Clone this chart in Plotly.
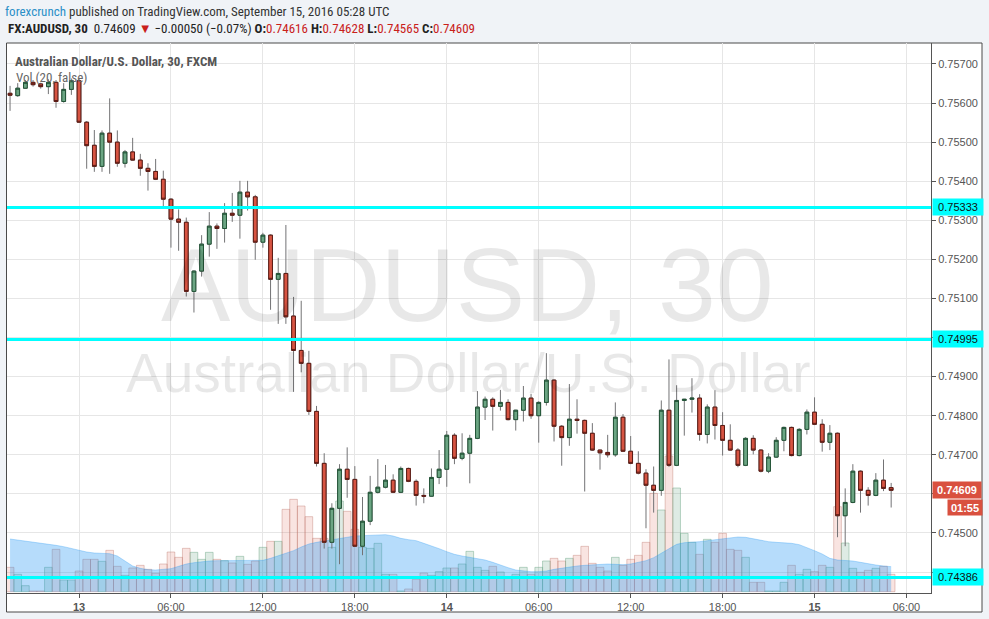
import plotly.graph_objects as go
import pandas as pd

# AUD/USD 30 minute candles (FXCM), first bar 12 Sep 2016 19:30 UTC
start_time = "2016-09-12 19:30"

opens = [
    0.75625, 0.75619, 0.75638, 0.75653, 0.75649, 0.75642, 0.75653, 0.75604, 0.75635, 0.75657,
    0.75551, 0.75492, 0.75438, 0.75523, 0.75500, 0.75446, 0.75475, 0.75454, 0.75433, 0.75425,
    0.75405, 0.75354, 0.75303, 0.75295, 0.75118, 0.75170, 0.75239, 0.75285, 0.75279, 0.75318,
    0.75313, 0.75372, 0.75360, 0.75244, 0.75262, 0.75149, 0.75164, 0.75055, 0.74967, 0.74934,
    0.74811, 0.74678, 0.74476, 0.74563, 0.74663, 0.74637, 0.74466, 0.74530, 0.74604, 0.74617,
    0.74635, 0.74604, 0.74665, 0.74632, 0.74596, 0.74594, 0.74642, 0.74663, 0.74750, 0.74691,
    0.74704, 0.74742, 0.74822, 0.74842, 0.74824, 0.74834, 0.74790, 0.74814, 0.74845, 0.74800,
    0.74834, 0.74891, 0.74773, 0.74744, 0.74791, 0.74788, 0.74755, 0.74712, 0.74706, 0.74700,
    0.74796, 0.74709, 0.74678, 0.74653, 0.74622, 0.74609, 0.74814, 0.74673, 0.74839, 0.74842,
    0.74845, 0.74752, 0.74822, 0.74775, 0.74737, 0.74712, 0.74673, 0.74742, 0.74712, 0.74658,
    0.74694, 0.74737, 0.74770, 0.74698, 0.74765, 0.74809, 0.74778, 0.74732, 0.74755, 0.74544,
    0.74578, 0.74658, 0.74609, 0.74596, 0.74635, 0.74616,
]
highs = [
    0.75644, 0.75651, 0.75659, 0.75659, 0.75652, 0.75661, 0.75659, 0.75651, 0.75663, 0.75662,
    0.75554, 0.75531, 0.75530, 0.75612, 0.75530, 0.75480, 0.75511, 0.75470, 0.75446, 0.75457,
    0.75427, 0.75357, 0.75328, 0.75307, 0.75172, 0.75262, 0.75321, 0.75292, 0.75344, 0.75370,
    0.75401, 0.75401, 0.75365, 0.75268, 0.75264, 0.75204, 0.75288, 0.75104, 0.75094, 0.74966,
    0.74825, 0.74704, 0.74576, 0.74676, 0.74719, 0.74671, 0.74592, 0.74646, 0.74689, 0.74674,
    0.74650, 0.74670, 0.74667, 0.74637, 0.74614, 0.74665, 0.74712, 0.74761, 0.74755, 0.74755,
    0.74751, 0.74863, 0.74849, 0.74847, 0.74866, 0.74842, 0.74815, 0.74876, 0.74856, 0.74837,
    0.74960, 0.74893, 0.74776, 0.74881, 0.74842, 0.74790, 0.74781, 0.74713, 0.74751, 0.74834,
    0.74804, 0.74748, 0.74709, 0.74663, 0.74670, 0.74839, 0.74944, 0.74878, 0.74843, 0.74896,
    0.74855, 0.74829, 0.74865, 0.74809, 0.74778, 0.74717, 0.74745, 0.74750, 0.74714, 0.74704,
    0.74745, 0.74772, 0.74772, 0.74768, 0.74816, 0.74847, 0.74791, 0.74776, 0.74757, 0.74614,
    0.74676, 0.74660, 0.74617, 0.74653, 0.74688, 0.74628,
]
lows = [
    0.75580, 0.75616, 0.75636, 0.75642, 0.75637, 0.75623, 0.75588, 0.75601, 0.75621, 0.75549,
    0.75432, 0.75424, 0.75424, 0.75419, 0.75437, 0.75435, 0.75453, 0.75414, 0.75376, 0.75403,
    0.75336, 0.75230, 0.75222, 0.75105, 0.75064, 0.75156, 0.75207, 0.75227, 0.75243, 0.75296,
    0.75253, 0.75325, 0.75199, 0.75230, 0.75071, 0.75035, 0.75035, 0.74861, 0.74911, 0.74802,
    0.74670, 0.74460, 0.74460, 0.74420, 0.74590, 0.74464, 0.74443, 0.74520, 0.74601, 0.74614,
    0.74602, 0.74602, 0.74630, 0.74570, 0.74576, 0.74592, 0.74625, 0.74618, 0.74676, 0.74686,
    0.74627, 0.74740, 0.74789, 0.74762, 0.74813, 0.74788, 0.74762, 0.74785, 0.74792, 0.74731,
    0.74826, 0.74734, 0.74672, 0.74723, 0.74754, 0.74606, 0.74710, 0.74662, 0.74693, 0.74695,
    0.74707, 0.74676, 0.74650, 0.74512, 0.74552, 0.74595, 0.74669, 0.74671, 0.74749, 0.74808,
    0.74736, 0.74729, 0.74739, 0.74698, 0.74710, 0.74668, 0.74671, 0.74701, 0.74655, 0.74653,
    0.74692, 0.74709, 0.74696, 0.74696, 0.74752, 0.74776, 0.74708, 0.74712, 0.74489, 0.74466,
    0.74576, 0.74552, 0.74570, 0.74594, 0.74607, 0.74565,
]
closes = [
    0.75620, 0.75638, 0.75653, 0.75647, 0.75642, 0.75653, 0.75604, 0.75635, 0.75657, 0.75551,
    0.75491, 0.75438, 0.75523, 0.75500, 0.75446, 0.75475, 0.75454, 0.75433, 0.75425, 0.75405,
    0.75354, 0.75303, 0.75295, 0.75118, 0.75170, 0.75239, 0.75285, 0.75279, 0.75318, 0.75313,
    0.75372, 0.75360, 0.75244, 0.75262, 0.75149, 0.75164, 0.75053, 0.74967, 0.74934, 0.74811,
    0.74678, 0.74476, 0.74563, 0.74663, 0.74637, 0.74466, 0.74530, 0.74604, 0.74617, 0.74635,
    0.74604, 0.74665, 0.74632, 0.74596, 0.74594, 0.74642, 0.74663, 0.74750, 0.74691, 0.74704,
    0.74742, 0.74822, 0.74842, 0.74824, 0.74834, 0.74790, 0.74814, 0.74845, 0.74800, 0.74834,
    0.74891, 0.74773, 0.74744, 0.74791, 0.74788, 0.74755, 0.74712, 0.74705, 0.74700, 0.74796,
    0.74709, 0.74678, 0.74653, 0.74622, 0.74609, 0.74814, 0.74673, 0.74839, 0.74842, 0.74845,
    0.74752, 0.74822, 0.74775, 0.74737, 0.74712, 0.74673, 0.74742, 0.74712, 0.74658, 0.74694,
    0.74737, 0.74770, 0.74698, 0.74765, 0.74809, 0.74778, 0.74732, 0.74755, 0.74544, 0.74578,
    0.74658, 0.74609, 0.74596, 0.74635, 0.74614, 0.74609,
]
# volume (relative units) and its 20-bar average
volumes = [
    73, 52, 18, 2, 2, 73, 127, 35, 35, 62,
    97, 97, 91, 124, 76, 49, 71, 79, 67, 55,
    83, 119, 103, 130, 118, 97, 118, 97, 93, 86,
    106, 82, 92, 133, 151, 151, 247, 277, 257, 225,
    160, 160, 133, 272, 241, 187, 133, 130, 145, 52,
    52, 2, 8, 37, 56, 49, 60, 71, 71, 83,
    121, 73, 64, 76, 59, 43, 52, 73, 52, 73,
    92, 100, 92, 100, 109, 136, 85, 73, 62, 103,
    79, 97, 109, 148, 295, 245, 407, 311, 175, 148,
    112, 157, 148, 175, 127, 124, 103, 28, 28, 2,
    2, 28, 79, 52, 67, 60, 79, 73, 255, 146,
    70, 58, 64, 70, 76, 52,
]
vol_ma = [
    158, 155, 153, 150, 145, 142, 139, 135, 129, 123,
    119, 116, 115, 114, 107, 92, 77, 70, 66, 65,
    67, 69, 76, 83, 87, 90, 92, 93, 93, 93,
    93, 92, 92, 94, 100, 108, 115, 123, 134, 143,
    148, 152, 157, 160, 164, 167, 168, 169, 171, 171,
    167, 160, 156, 153, 145, 138, 129, 120, 112, 107,
    103, 101, 95, 88, 79, 72, 65, 62, 60, 60,
    62, 67, 71, 75, 77, 79, 81, 83, 83, 82,
    81, 83, 87, 93, 102, 115, 130, 142, 147, 148,
    150, 153, 156, 159, 161, 164, 163, 158, 154, 150,
    148, 147, 145, 141, 133, 123, 113, 100, 95, 94,
    92, 88, 83, 80, 77, 75,
]

levels = [0.75333, 0.74995, 0.74386]
countdown = "01:55"
change_text = "\u22120.00050 (\u22120.07%)"

price_ticks = [0.744, 0.745, 0.746, 0.747, 0.748, 0.749, 0.750, 0.751,
               0.752, 0.753, 0.754, 0.755, 0.756, 0.757]
# labels covered by the price / level boxes on the axis
hidden_ticks = [0.744, 0.746]
time_ticks = ["2016-09-13 00:00", "2016-09-13 06:00", "2016-09-13 12:00", "2016-09-13 18:00",
              "2016-09-14 00:00", "2016-09-14 06:00", "2016-09-14 12:00", "2016-09-14 18:00",
              "2016-09-15 00:00", "2016-09-15 06:00"]
time_labels = ["<b>13</b>", "06:00", "12:00", "18:00", "<b>14</b>",
               "06:00", "12:00", "18:00", "<b>15</b>", "06:00"]

W, H = 989, 619


def px(x):
    return x / W


def py(y):
    return 1 - y / H


times = pd.date_range(start_time, periods=len(opens), freq="30min")
rising = [c >= o for o, c in zip(opens, closes)]
body_top = [max(o, c) for o, c in zip(opens, closes)]
body_bot = [min(o, c) for o, c in zip(opens, closes)]
price_labels = ["" if v in hidden_ticks else f"{v:.5f}" for v in price_ticks]

NARROW = "Liberation Sans Narrow, Roboto Condensed, Liberation Sans, Arial"
ARIAL = "Liberation Sans, Arial"

fig = go.Figure()

# volume bars
fig.add_trace(go.Bar(
    x=times, y=volumes, width=1800000,
    marker=dict(
        color=["rgba(107,165,131,0.22)" if r else "rgba(215,84,66,0.16)" for r in rising],
        line=dict(color=["rgba(107,165,131,0.45)" if r else "rgba(190,120,110,0.40)" for r in rising],
                  width=1),
    ),
    yaxis="y",
))

# volume moving average area
fig.add_trace(go.Scatter(
    x=times, y=vol_ma, mode="lines", fill="tozeroy",
    line=dict(color="rgba(33,150,243,0.30)", width=1),
    fillcolor="rgba(33,150,243,0.33)",
    yaxis="y",
))

# wicks (gray)
wick = dict(line=dict(color="#737375", width=1), fillcolor="#737375")
fig.add_trace(go.Candlestick(
    x=times, open=opens, high=highs, low=lows, close=closes,
    increasing=wick, decreasing=wick, whiskerwidth=0,
    yaxis="y2",
))

# bodies
fig.add_trace(go.Candlestick(
    x=times, open=opens, high=body_top, low=body_bot, close=closes,
    increasing=dict(line=dict(color="#225437", width=1), fillcolor="#6ba583"),
    decreasing=dict(line=dict(color="#5b1a13", width=1), fillcolor="#d75442"),
    whiskerwidth=0,
    yaxis="y2",
))

shapes = [dict(type="rect", xref="paper", yref="paper",
               x0=px(6.5), x1=px(982), y0=py(612), y1=py(43),
               fillcolor="white", line=dict(color="#4a4a4a", width=1), layer="below")]
for lv in levels:
    shapes.append(dict(type="line", xref="paper", yref="y2",
                       x0=px(7), x1=px(931), y0=lv, y1=lv,
                       line=dict(color="#00ffff", width=3), layer="above"))

annotations = [
    dict(text="<span style='color:#2a8fc7'>forexcrunch</span> published on TradingView.com, "
              "September 15, 2016 05:28 UTC",
         xref="paper", yref="paper", x=px(3), y=py(12), xanchor="left", yanchor="middle",
         showarrow=False, font=dict(family=NARROW, size=13, color="#333333")),
    dict(text=f"<b>FX:AUDUSD, 30</b>  {closes[-1]:.5f} <span style='color:#c9201a'>\u25bc</span> "
              f"{change_text} "
              f"<b>O:</b><span style='color:#c9201a'>{opens[-1]:.5f}</span> "
              f"<b>H:</b><span style='color:#c9201a'>{highs[-1]:.5f}</span> "
              f"<b>L:</b><span style='color:#c9201a'>{lows[-1]:.5f}</span> "
              f"<b>C:</b><span style='color:#c9201a'>{closes[-1]:.5f}</span>",
         xref="paper", yref="paper", x=px(6), y=py(29), xanchor="left", yanchor="middle",
         showarrow=False, font=dict(family=NARROW, size=13, color="#222222")),
    dict(text="<b>Australian Dollar/U.S. Dollar, 30, FXCM</b>",
         xref="paper", yref="paper", x=px(13), y=py(61), xanchor="left", yanchor="middle",
         showarrow=False, font=dict(family=NARROW, size=13, color="#555555")),
    dict(text="Vol (20, false)",
         xref="paper", yref="paper", x=px(14), y=py(78), xanchor="left", yanchor="middle",
         showarrow=False, font=dict(family=NARROW, size=13, color="#666666")),
    dict(text="AUDUSD, 30",
         xref="paper", yref="paper", x=px(467), y=py(285), xanchor="center", yanchor="middle",
         showarrow=False, font=dict(family=ARIAL, size=104, color="rgba(0,0,0,0.09)")),
    dict(text="Australian Dollar/U.S. Dollar",
         xref="paper", yref="paper", x=px(468), y=py(373), xanchor="center", yanchor="middle",
         showarrow=False, font=dict(family=ARIAL, size=55, color="rgba(0,0,0,0.09)")),
]
for lv in levels:
    annotations.append(dict(text=f"{lv:.5f}", xref="paper", yref="y2", x=px(932), y=lv,
                            xanchor="left", yanchor="middle", showarrow=False,
                            width=48, height=14, borderpad=1, bgcolor="#00ffff", align="center",
                            font=dict(family=ARIAL, size=11, color="#111111")))
annotations.append(dict(text=f"<b>{closes[-1]:.5f}</b>", xref="paper", yref="y2", x=px(932),
                        y=closes[-1], xanchor="left", yanchor="middle", showarrow=False,
                        width=46, height=14, borderpad=1, bgcolor="#d9503f", align="center",
                        font=dict(family=ARIAL, size=11, color="white")))
annotations.append(dict(text=f"<b>{countdown}</b>", xref="paper", yref="y2", x=px(947),
                        y=closes[-1], yshift=-17, xanchor="left", yanchor="middle",
                        showarrow=False, width=32, height=13, borderpad=1, bgcolor="#d9503f",
                        align="center", font=dict(family=ARIAL, size=11, color="white")))

axis_font = dict(family=ARIAL, size=11, color="#555555")

fig.update_layout(
    width=W, height=H,
    margin=dict(l=0, r=0, t=0, b=0),
    paper_bgcolor="#f0f3f7",
    plot_bgcolor="rgba(0,0,0,0)",
    showlegend=False,
    hovermode=False,
    barmode="overlay",
    shapes=shapes,
    annotations=annotations,
    xaxis=dict(
        type="date", domain=[px(7), px(931)],
        range=["2016-09-12 19:18", "2016-09-15 07:36"],
        tickvals=time_ticks, ticktext=time_labels,
        showgrid=True, gridcolor="#e6e6e6", gridwidth=1, zeroline=False,
        showline=True, linecolor="#555555", linewidth=1,
        ticks="outside", ticklen=4, tickcolor="#555555",
        tickfont=axis_font, rangeslider=dict(visible=False),
        anchor="y",
    ),
    yaxis=dict(
        domain=[py(593), py(43)], range=[-4, 1646],
        visible=False, showgrid=False, zeroline=False, fixedrange=True,
    ),
    yaxis2=dict(
        overlaying="y", side="right", anchor="x",
        range=[0.743463, 0.757537],
        tickvals=price_ticks, ticktext=price_labels,
        showgrid=True, gridcolor="#e6e6e6", gridwidth=1, zeroline=False,
        showline=True, linecolor="#555555", linewidth=1,
        ticks="outside", ticklen=4, tickcolor="#555555",
        tickfont=axis_font,
    ),
)

# drop the default page margin so the figure sits at the window corner
fig.write_html("out.html", config={"displayModeBar": False},
               post_script="document.body.style.margin='0px';")
